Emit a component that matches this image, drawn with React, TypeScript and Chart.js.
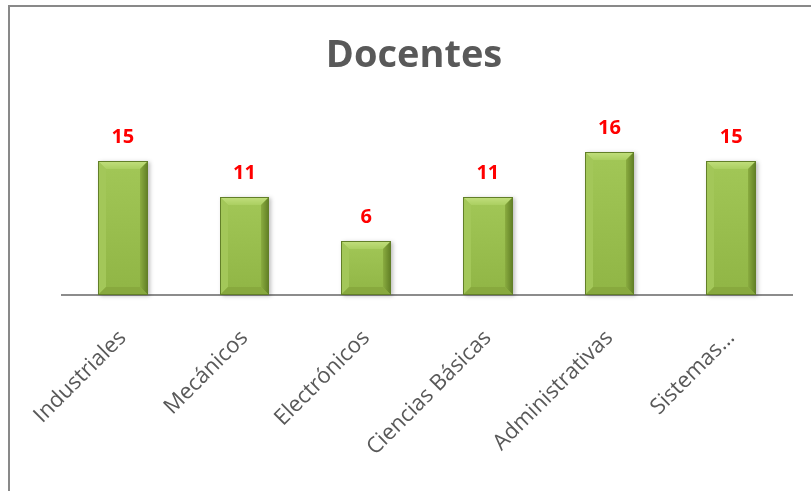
import React, { useEffect, useRef } from "react";
import { Chart, registerables } from "chart.js";

Chart.register(...registerables);

const chartTitle = "Docentes";
const categories = ["Industriales", "Mecánicos", "Electrónicos", "Ciencias Básicas", "Administrativas", "Sistemas…"];
const docentes = [15, 11, 6, 11, 16, 15];

export default function App() {
  const ref = useRef<HTMLCanvasElement>(null);

  useEffect(() => {
    const canvas = ref.current;
    if (!canvas) return;

    const bevelPlugin = {
      id: "bevelAndLabels",
      afterDatasetsDraw(chart: any) {
        const ctx = chart.ctx as CanvasRenderingContext2D;
        ctx.save();
        ctx.fillStyle = "#595959";
        ctx.font = "bold 38px 'Open Sans'";
        ctx.textAlign = "center";
        ctx.textBaseline = "middle";
        ctx.fillText(chartTitle, 404, 49);
        ctx.restore();

        const meta = chart.getDatasetMeta(0);
        meta.data.forEach((bar: any, i: number) => {
          const p = bar.getProps(["x", "y", "base", "width"], true);
          const l = Math.round(p.x - p.width / 2);
          const r = Math.round(p.x + p.width / 2);
          const t = Math.round(p.y);
          const b = Math.round(p.base);
          const s = Math.min(8, (b - t) / 2);
          ctx.save();
          ctx.shadowColor = "rgba(0,0,0,0.25)";
          ctx.shadowBlur = 4;
          ctx.shadowOffsetX = 2;
          ctx.shadowOffsetY = 1;
          ctx.fillStyle = "#94b94a";
          ctx.fillRect(l, t, r - l, b - t);
          ctx.shadowColor = "transparent";
          const g = ctx.createLinearGradient(0, t, 0, b);
          g.addColorStop(0, "#a2c757");
          g.addColorStop(1, "#90b545");
          ctx.fillStyle = g;
          ctx.fillRect(l, t, r - l, b - t);
          const gt = ctx.createLinearGradient(0, t, 0, t + s);
          gt.addColorStop(0, "#c2df7e");
          gt.addColorStop(1, "#abcf61");
          ctx.fillStyle = gt;
          ctx.beginPath();
          ctx.moveTo(l, t); ctx.lineTo(r, t); ctx.lineTo(r - s, t + s); ctx.lineTo(l + s, t + s); ctx.closePath();
          ctx.fill();
          ctx.fillStyle = "#a3c759";
          ctx.beginPath();
          ctx.moveTo(l, t); ctx.lineTo(l + s, t + s); ctx.lineTo(l + s, b - s); ctx.lineTo(l, b); ctx.closePath();
          ctx.fill();
          const gr = ctx.createLinearGradient(r - s, 0, r, 0);
          gr.addColorStop(0, "#8aac40");
          gr.addColorStop(1, "#5f7d24");
          ctx.fillStyle = gr;
          ctx.beginPath();
          ctx.moveTo(r, t); ctx.lineTo(r, b); ctx.lineTo(r - s, b - s); ctx.lineTo(r - s, t + s); ctx.closePath();
          ctx.fill();
          ctx.fillStyle = "#88a93e";
          ctx.beginPath();
          ctx.moveTo(l, b); ctx.lineTo(r, b); ctx.lineTo(r - s, b - s); ctx.lineTo(l + s, b - s); ctx.closePath();
          ctx.fill();
          ctx.strokeStyle = "#627f28";
          ctx.lineWidth = 1;
          ctx.strokeRect(l + 0.5, t + 0.5, r - l - 1, b - t - 1);
          ctx.fillStyle = "#ff0000";
          ctx.font = "bold 20px 'Open Sans'";
          ctx.textAlign = "center";
          ctx.textBaseline = "alphabetic";
          ctx.fillText(String(docentes[i]), p.x, t - 18);
          ctx.restore();
        });
      },
    };

    const chart = new Chart(canvas, {
      type: "bar",
      data: {
        labels: categories,
        datasets: [
          {
            label: chartTitle,
            data: docentes,
            backgroundColor: "rgba(0,0,0,0)",
            borderWidth: 0,
            categoryPercentage: 1,
            barPercentage: 0.41,
          },
        ],
      },
      options: {
        responsive: false,
        animation: false,
        layout: { padding: { top: 109, left: 52, right: 34, bottom: 0 } },
        plugins: {
          legend: { display: false },
          tooltip: { enabled: false },
          title: { display: false },
        },
        scales: {
          x: {
            grid: { display: false },
            border: { display: true, color: "#8c8c8c", width: 2 },
            ticks: {
              color: "#595959",
              font: { family: "'Open Sans'", size: 22 },
              minRotation: 45,
              maxRotation: 45,
              autoSkip: false,
              padding: 22,
            },
            afterFit: (scale: any) => {
              scale.height = 208;
            },
          },
          y: { display: false, min: 0, max: 20 },
        },
      },
      plugins: [bevelPlugin],
    });

    return () => chart.destroy();
  }, []);

  return (
    <div style={{ position: "fixed", left: 0, top: 0, width: 811, height: 491, overflow: "hidden", background: "#fff" }}>
      <div
        style={{
          position: "absolute",
          left: 8,
          top: 5,
          width: 820,
          height: 500,
          border: "2px solid #898989",
          boxSizing: "border-box",
          background: "#fff",
        }}
      >
        <canvas ref={ref} width={816} height={496} style={{ display: "block" }} />
      </div>
    </div>
  );
}
